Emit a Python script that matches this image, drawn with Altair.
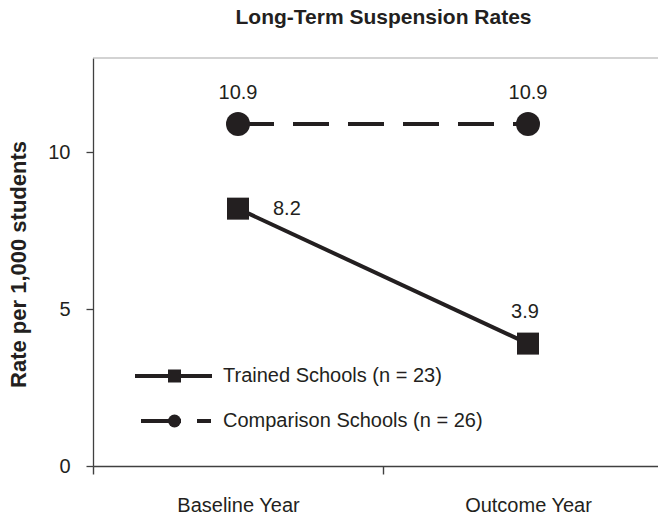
import json
import altair as alt
import pandas as pd

# ---- data ----
years = ["Baseline Year", "Outcome Year"]
trained = [8.2, 3.9]
comparison = [10.9, 10.9]
series = ["Trained Schools (n = 23)", "Comparison Schools (n = 26)"]
chart_title = "Long-Term Suspension Rates"
y_title = "Rate per 1,000 students"
y_ticks = [0, 5, 10]
y_max = 13

# categories are placed in the middle of unit-wide slots: slot i spans [i, i+1]
slot_centres = [i + 0.5 for i in range(len(years))]
slot_edges = list(range(len(years) + 1))

df = pd.DataFrame({
    "year": years * 2,
    "xi": slot_centres * 2,
    "rate": trained + comparison,
    "series": [series[0]] * len(years) + [series[1]] * len(years),
})
df["label"] = df["rate"].map(lambda v: f"{v:.1f}")

FONT = "Liberation Sans"
INK = "#231f20"
AXIS = "#404040"

PLOT_W = 565          # view is cut at the page edge, like the reference
SLOT_PX = 290         # pixel width of one category slot

x_enc = alt.X(
    "xi:Q",
    scale=alt.Scale(domain=[0, PLOT_W / SLOT_PX], nice=False, zero=False),
    axis=alt.Axis(
        title=None, values=sorted(slot_edges + slot_centres),
        labelExpr=f"datum.value % 1 == 0.5 ? {json.dumps(years)}[floor(datum.value)] : ''",
        tickOpacity={"condition": {"test": "datum.value % 1 == 0.5", "value": 0}, "value": 1},
        labelOverlap=False, labelFlush=False, labelBound=False,
        labelAngle=0, tickSize=8, labelPadding=21, labelFontSize=20,
        labelFont=FONT, labelColor=INK, domainColor=AXIS, domainWidth=1.6,
        tickColor=AXIS, tickWidth=1.4, grid=False),
)
y_enc = alt.Y(
    "rate:Q",
    scale=alt.Scale(domain=[0, y_max], nice=False, zero=True),
    axis=alt.Axis(values=y_ticks, title=y_title, tickSize=7, labelPadding=16,
                  labelFontSize=20, labelFont=FONT, labelColor=INK,
                  titleFont=FONT, titleFontSize=22, titleFontWeight="bold",
                  titleColor=INK, titleX=-75, titleY=206, titleAngle=270,
                  titleBaseline="middle", titleAlign="center",
                  domainColor=AXIS, domainWidth=1.3, tickColor=AXIS,
                  tickWidth=1.3, grid=False),
)

base = alt.Chart(df).encode(x=x_enc, y=y_enc)
is_tr = alt.datum.series == series[0]
is_cp = alt.datum.series == series[1]

top_border = alt.Chart(pd.DataFrame({"v": [y_max]})).mark_rule(
    color="#a8a8a8", strokeWidth=1.2
).encode(y=alt.Y("v:Q"))

line_tr = base.transform_filter(is_tr).mark_line(color=INK, strokeWidth=4)
line_cp = base.transform_filter(is_cp).mark_line(
    color=INK, strokeWidth=4, strokeDash=[36, 19])
pts_tr = base.transform_filter(is_tr).mark_point(
    shape="square", filled=True, size=484, color=INK, opacity=1)
pts_cp = base.transform_filter(is_cp).mark_point(
    shape="circle", filled=True, size=576, color=INK, opacity=1)

txt_style = dict(font=FONT, fontSize=20, color=INK, baseline="middle")
lab_cp = base.transform_filter(is_cp).mark_text(
    align="center", dy=-31, **txt_style).encode(text="label:N")
lab_tr0 = base.transform_filter(is_tr).transform_filter(
    alt.datum.year == years[0]).mark_text(
    align="left", dx=35, **txt_style).encode(text="label:N")
lab_tr1 = base.transform_filter(is_tr).transform_filter(
    alt.datum.year == years[1]).mark_text(
    align="center", dx=-3, dy=-32, **txt_style).encode(text="label:N")

# ---- manual legend (pixel placement inside the plot area) ----
leg_tr_df = pd.DataFrame({"label": [series[0]]})
leg_cp_df = pd.DataFrame({"label": [series[1]]})

leg_tr_line = alt.Chart(leg_tr_df).mark_rule(color=INK, strokeWidth=4).encode(
    x=alt.value(42), x2=alt.value(119), y=alt.value(318))
leg_tr_sym = alt.Chart(leg_tr_df).mark_point(
    shape="square", filled=True, size=169, color=INK, opacity=1).encode(
    x=alt.value(81.5), y=alt.value(318))
leg_tr_txt = alt.Chart(leg_tr_df).mark_text(align="left", **txt_style).encode(
    x=alt.value(130), y=alt.value(318), text="label:N")

leg_cp_line = alt.Chart(leg_cp_df).mark_rule(
    color=INK, strokeWidth=4, strokeDash=[40, 16]).encode(
    x=alt.value(48), x2=alt.value(118), y=alt.value(363))
leg_cp_sym = alt.Chart(leg_cp_df).mark_point(
    shape="circle", filled=True, size=169, color=INK, opacity=1).encode(
    x=alt.value(81.5), y=alt.value(363))
leg_cp_txt = alt.Chart(leg_cp_df).mark_text(align="left", **txt_style).encode(
    x=alt.value(130), y=alt.value(363), text="label:N")

chart = alt.layer(
    top_border, line_tr, line_cp, pts_tr, pts_cp, lab_cp, lab_tr0, lab_tr1,
    leg_tr_line, leg_tr_sym, leg_tr_txt, leg_cp_line, leg_cp_sym, leg_cp_txt,
).properties(
    width=PLOT_W, height=408,
    title=alt.TitleParams(chart_title, font=FONT, fontSize=21,
                          fontWeight="bold", color=INK, anchor="middle",
                          offset=29, dx=8),
    autosize=alt.AutoSizeParams(type="none"),
    padding={"left": 85, "top": 50, "right": 0, "bottom": 50},
).configure(background="white",
            view=alt.ViewConfig(strokeWidth=0, strokeOpacity=0))

chart.save("out.html", embed_options={"renderer": "svg", "actions": False})
